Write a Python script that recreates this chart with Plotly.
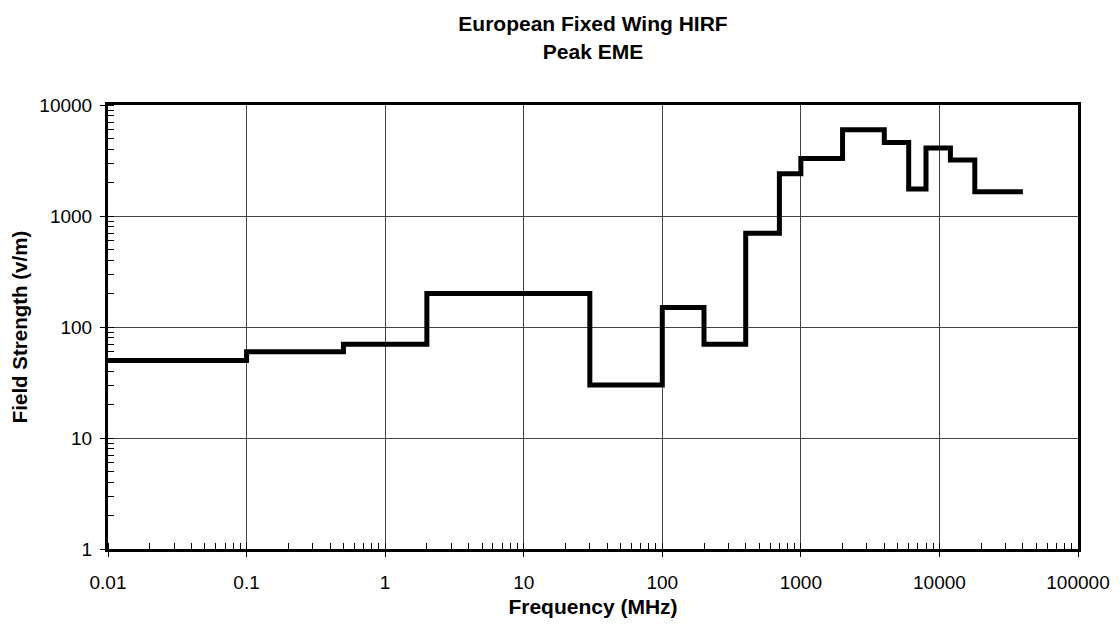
import plotly.graph_objects as go

# Frequency band edges (MHz) and peak field strength (V/m) per band
freq_edges = [0.01, 0.1, 0.5, 2, 30, 100, 200, 400, 700, 1000, 2000,
              4000, 6000, 8000, 12000, 18000, 40000]
field_peak = [50, 60, 70, 200, 30, 150, 70, 700, 2400, 3300, 6000,
              4600, 1750, 4100, 3200, 1650]

x_tickvals = [0.01, 0.1, 1, 10, 100, 1000, 10000, 100000]
x_ticktext = ["0.01", "0.1", "1", "10", "100", "1000", "10000", "100000"]
y_tickvals = [1, 10, 100, 1000, 10000]
y_ticktext = ["1", "10", "100", "1000", "10000"]

FONT = "Liberation Sans, Arial, Helvetica, sans-serif"

fig = go.Figure()
fig.add_trace(go.Scatter(
    x=freq_edges,
    y=field_peak + [field_peak[-1]],
    mode="lines",
    line=dict(shape="hv", color="black", width=5),
    showlegend=False,
    hoverinfo="x+y",
))

axis_common = dict(
    type="log",
    showline=True, linecolor="black", linewidth=3, mirror=True,
    showgrid=True, gridcolor="#444444", gridwidth=1,
    zeroline=False,
    ticks="outside", ticklen=5, tickwidth=1, tickcolor="black",
    tickfont=dict(family=FONT, size=19, color="black"),
    minor=dict(ticks="inside", ticklen=6, tickwidth=1, tickcolor="black",
               showgrid=False, dtick="D1"),
)

fig.update_xaxes(
    **axis_common,
    range=[-2, 5],
    tickvals=x_tickvals, ticktext=x_ticktext,
    ticklabelstandoff=9,
    title=dict(text="<b>Frequency (MHz)</b>",
               font=dict(family=FONT, size=21, color="black"), standoff=8),
)
fig.update_yaxes(
    **axis_common,
    range=[0, 4],
    tickvals=y_tickvals, ticktext=y_ticktext,
    ticklabelstandoff=4,
    title=dict(text="<b>Field Strength (v/m)</b>",
               font=dict(family=FONT, size=20.5, color="black"), standoff=10),
)

fig.update_layout(
    width=1104, height=628,
    margin=dict(l=100, r=34, t=97, b=87, autoexpand=False),
    paper_bgcolor="white", plot_bgcolor="white",
    title=dict(text="<b>European Fixed Wing HIRF<br>Peak EME</b>",
               font=dict(family=FONT, size=21, color="black"),
               x=0.5, xref="paper", xanchor="center",
               y=0.963, yref="container", yanchor="top"),
)

fig.write_html("out.html")
